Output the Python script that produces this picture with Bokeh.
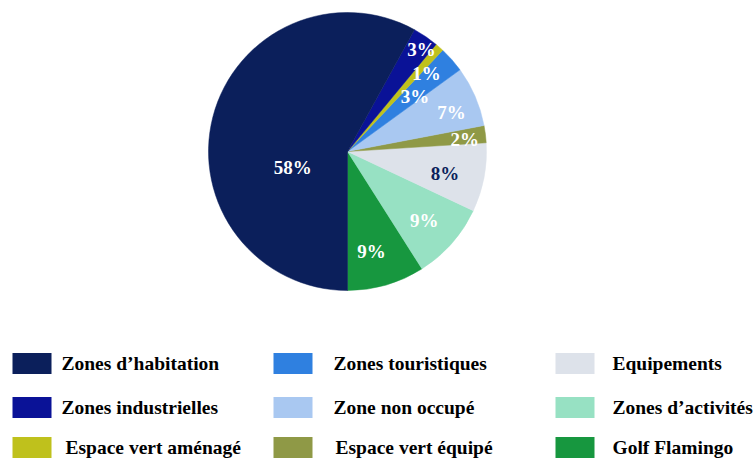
import math
from bokeh.plotting import figure
from bokeh.models import Range1d, ColumnDataSource
from bokeh.embed import file_html
from bokeh.resources import INLINE
from bokeh.core.properties import value

# ---- data (anticlockwise from 6 o'clock) ----
categories = ["Golf Flamingo", "Zones d’activités", "Equipements", "Espace vert équipé",
              "Zone non occupé", "Zones touristiques", "Espace vert aménagé",
              "Zones industrielles", "Zones d’habitation"]
shares = [9, 9, 8, 2, 7, 3, 1, 3, 58]
colors = ["#17973f", "#97e1c3", "#dde2ea", "#8f9946", "#a9c8f1", "#2f80e0",
          "#bfc11c", "#0a1297", "#0b1f5b"]
label_colors = ["white", "white", "#0b1f5b", "white", "white", "white", "white", "white", "white"]

legend_order = ["Zones d’habitation", "Zones touristiques", "Equipements",
                "Zones industrielles", "Zone non occupé", "Zones d’activités",
                "Espace vert aménagé", "Espace vert équipé", "Golf Flamingo"]

# ---- layout / style ----
W, H = 755, 460
cx, cy_px, R = 347, 151, 139
lab_off_deg = [-2.7, -0.5, -1.9, -1.3, -2.8, -2.4, -4.0, -1.8, 30.6]
lab_r = [103, 103, 100, 118, 111, 87, 111, 126, 57]

p = figure(width=W, height=H, output_backend="svg", toolbar_location=None,
           x_range=Range1d(0, W), y_range=Range1d(0, H),
           min_border=0)
p.axis.visible = False
p.grid.visible = False
p.outline_line_color = None

cy = H - cy_px
total = sum(shares)
starts, ends, lx, ly = [], [], [], []
acc = -math.pi / 2
for v, off, r in zip(shares, lab_off_deg, lab_r):
    a0 = acc
    a1 = acc + 2 * math.pi * v / total
    starts.append(a0)
    ends.append(a1)
    mid = (a0 + a1) / 2 + math.radians(off)
    lx.append(cx + r * math.cos(mid))
    ly.append(cy + r * math.sin(mid))
    acc = a1

src = ColumnDataSource(dict(start=starts, end=ends, color=colors,
                            lx=lx, ly=ly, txt=[f"{v}%" for v in shares],
                            tc=label_colors))
p.wedge(x=cx, y=cy, radius=R, start_angle="start", end_angle="end",
        fill_color="color", line_color="color", line_width=0.5, source=src)
p.text(x="lx", y="ly", text="txt", text_color="tc", source=src,
       text_font=value("Liberation Serif"), text_font_style="bold",
       text_font_size="19px", text_align="center", text_baseline="middle")

# ---- legend ----
col_sw = [12, 273, 555]
col_tx = [[61, 61, 65], [333, 333, 335], [612, 612, 612]]
row_y = [363, 407, 447]
sw_w, sw_h = 39, 21
cmap = dict(zip(categories, colors))
rx, ry, rc, tx, ty, tt = [], [], [], [], [], []
for i, name in enumerate(legend_order):
    row, col = divmod(i, 3)
    rx.append(col_sw[col] + sw_w / 2)
    ry.append(H - row_y[row])
    rc.append(cmap[name])
    tx.append(col_tx[col][row])
    ty.append(H - row_y[row])
    tt.append(name)
p.rect(x=rx, y=ry, width=sw_w, height=sw_h, fill_color=rc, line_color=None)
p.text(x=tx, y=ty, text=tt, text_color="black",
       text_font=value("Liberation Serif"), text_font_style="bold",
       text_font_size="19.5px", text_align="left", text_baseline="middle")

open("out.html", "w").write(file_html(p, INLINE))
